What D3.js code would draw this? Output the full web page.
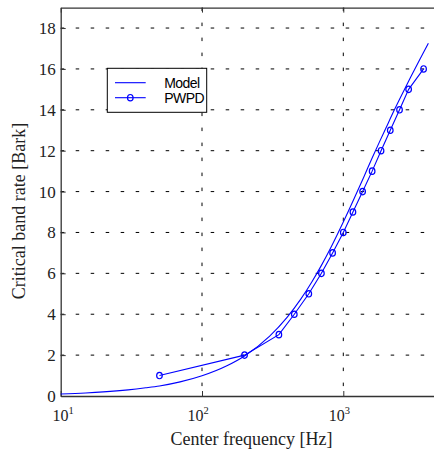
<!DOCTYPE html>
<html>
<head>
<meta charset="utf-8">
<script src="https://cdn.jsdelivr.net/npm/d3@7"></script>
<style>
  html, body { margin: 0; padding: 0; background: #fff; }
  svg { display: block; overflow: hidden; }
  .tick-label { font-family: "Liberation Serif", "Times New Roman", serif; font-size: 17px; fill: #222; }
  .axis-title { font-family: "Liberation Serif", "Times New Roman", serif; font-size: 18px; fill: #222; }
  .legend-text { font-family: "Liberation Sans", Arial, sans-serif; font-size: 14px; letter-spacing: -0.6px; fill: #000; }
</style>
</head>
<body>
<svg id="chart" width="434" height="453"></svg>
<script>
// Model curve (frequency in Hz, critical band rate in Bark).
const modelFreq = [10, 15, 20, 30, 40, 50, 70, 100, 150, 200, 300, 400, 500, 600, 700,
                   800, 900, 1000, 1200, 1400, 1600, 1800, 2000, 2300, 2600, 3000, 3500, 4000];
const modelBark = [0.10, 0.15, 0.20, 0.30, 0.40, 0.49, 0.69, 0.99, 1.48, 1.96, 2.92, 3.85, 4.74, 5.59, 6.39,
                   7.14, 7.85, 8.51, 9.70, 10.73, 11.64, 12.42, 13.10, 14.00, 14.75, 15.60, 16.50, 17.26];

// PWPD points.
const pwpdFreq = [50, 200, 350, 450, 570, 700, 840, 1000, 1170, 1370, 1600, 1850, 2150, 2500, 2900, 3700];
const pwpdBark = [1, 2, 3, 4, 5, 6, 7, 8, 9, 10, 11, 12, 13, 14, 15, 16];

// Ticks (10^4 lies past the cropped right edge, only its grid/ticks would show).
const xTicks = [10, 100, 1000];
const xTickExp = ['1', '2', '3'];
const yTicks = [0, 2, 4, 6, 8, 10, 12, 14, 16, 18];

const legendNames = ['Model', 'PWPD'];

const svg = d3.select('#chart');
const mLeft = 60.7, mTop = 7.6, mBottom = 396, mRight = 484.6;

const x = d3.scaleLog().domain([10, 10000]).range([mLeft, mRight]);
const y = d3.scaleLinear().domain([0, 19]).range([mBottom, mTop]);

const grid = svg.append('g');
// Horizontal grid lines.
grid.selectAll('line.h')
  .data(yTicks.filter(d => d > 0))
  .enter().append('line')
    .attr('x1', mLeft).attr('x2', mRight)
    .attr('y1', d => y(d)).attr('y2', d => y(d))
    .attr('stroke', '#000').attr('stroke-width', 1)
    .attr('stroke-dasharray', '3.5,11.5');
// Vertical grid lines.
grid.selectAll('line.v')
  .data(xTicks.filter(d => d > 10))
  .enter().append('line')
    .attr('x1', d => x(d)).attr('x2', d => x(d))
    .attr('y1', mTop).attr('y2', mBottom)
    .attr('stroke', '#000').attr('stroke-width', 1)
    .attr('stroke-dasharray', '3.5,11.5');

// Axes (inward ticks, MATLAB style).
const xAxis = d3.axisBottom(x).tickValues(xTicks).tickSizeInner(-5).tickSizeOuter(0).tickFormat('');
const yAxis = d3.axisLeft(y).tickValues(yTicks).tickSizeInner(-5).tickSizeOuter(0).tickFormat('');
const xTop = d3.axisTop(x).tickValues(xTicks).tickSizeInner(-5).tickSizeOuter(0).tickFormat('');

const gx = svg.append('g').attr('transform', `translate(0,${mBottom})`).call(xAxis);
const gy = svg.append('g').attr('transform', `translate(${mLeft},0)`).call(yAxis);
const gt = svg.append('g').attr('transform', `translate(0,${mTop})`).call(xTop);
[gx, gy, gt].forEach(g => {
  g.select('.domain').attr('stroke', '#333').attr('stroke-width', 1.3);
  g.selectAll('.tick line').attr('stroke', '#333').attr('stroke-width', 1);
});

// Y tick labels.
svg.append('g').selectAll('text')
  .data(yTicks)
  .enter().append('text')
    .attr('class', 'tick-label')
    .attr('x', mLeft - 5)
    .attr('y', d => y(d) + 6)
    .attr('text-anchor', 'end')
    .text(d => d);

// X tick labels with exponents (first one is nudged inside like MATLAB does).
const xl = svg.append('g').selectAll('text')
  .data(xTicks)
  .enter().append('text')
    .attr('class', 'tick-label')
    .style('font-size', '16px')
    .attr('x', d => Math.max(x(d) - 14.5, 52.5))
    .attr('y', mBottom + 25);
xl.append('tspan').text('10');
xl.append('tspan').attr('dy', -7).attr('font-size', 10.5).text((d, i) => xTickExp[i]);

// Axis titles.
svg.append('text')
  .attr('class', 'axis-title')
  .attr('x', 251.5).attr('y', 445)
  .attr('text-anchor', 'middle')
  .text('Center frequency [Hz]');
svg.append('text')
  .attr('class', 'axis-title')
  .attr('transform', 'translate(25,211) rotate(-90)')
  .attr('text-anchor', 'middle')
  .text('Critical band rate [Bark]');

// Lines.
const model = modelFreq.map((f, i) => [f, modelBark[i]]);
const pwpd = pwpdFreq.map((f, i) => [f, pwpdBark[i]]);
const line = d3.line().x(d => x(d[0])).y(d => y(d[1])).curve(d3.curveMonotoneX);
const lineStraight = d3.line().x(d => x(d[0])).y(d => y(d[1]));

const plot = svg.append('g');
plot.append('path').datum(model)
  .attr('d', line).attr('fill', 'none').attr('stroke', '#0000ff').attr('stroke-width', 1.1);
plot.append('path').datum(pwpd)
  .attr('d', lineStraight).attr('fill', 'none').attr('stroke', '#0000ff').attr('stroke-width', 1.1);
plot.selectAll('ellipse')
  .data(pwpd)
  .enter().append('ellipse')
    .attr('cx', d => x(d[0])).attr('cy', d => y(d[1]))
    .attr('rx', 2.8).attr('ry', 3.2)
    .attr('fill', 'none').attr('stroke', '#0000ff').attr('stroke-width', 1.2);

// Legend.
const lg = svg.append('g');
lg.append('rect')
  .attr('x', 107.3).attr('y', 68.3).attr('width', 99.4).attr('height', 44)
  .attr('fill', '#fff').attr('stroke', '#000').attr('stroke-width', 1);
legendNames.forEach((name, i) => {
  const ly = 82.7 + i * 15;
  lg.append('line')
    .attr('x1', 115).attr('x2', 145.7).attr('y1', ly).attr('y2', ly)
    .attr('stroke', '#0000ff').attr('stroke-width', 1.1);
  if (i === 1) {
    lg.append('ellipse').attr('cx', 130.3).attr('cy', ly).attr('rx', 2.8).attr('ry', 3.2)
      .attr('fill', 'none').attr('stroke', '#0000ff').attr('stroke-width', 1.2);
  }
  lg.append('text')
    .attr('class', 'legend-text')
    .attr('x', 164.3).attr('y', ly + 5)
    .text(name);
});
</script>
</body>
</html>
